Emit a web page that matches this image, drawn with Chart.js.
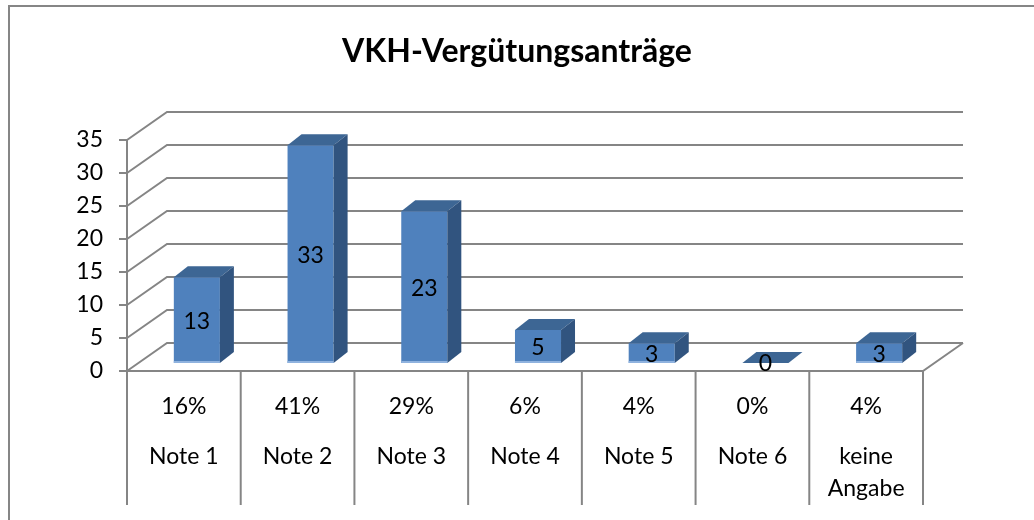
<!DOCTYPE html>
<html>
<head>
<meta charset="utf-8">
<script src="https://cdn.jsdelivr.net/npm/chart.js@4"></script>
<style>
  html, body { margin: 0; padding: 0; background: #fff; }
  canvas { display: block; }
</style>
</head>
<body>
<canvas id="chart" width="1034" height="520"></canvas>
<script>
// Anträge nach Note
const categories = ['Note 1', 'Note 2', 'Note 3', 'Note 4', 'Note 5', 'Note 6', ['keine', 'Angabe']];
const counts = [13, 33, 23, 5, 3, 0, 3];
const shares = ['16%', '41%', '29%', '6%', '4%', '0%', '4%'];
const title = 'VKH-Vergütungsanträge';

const FONT = 'Lato, "Open Sans", sans-serif';
const LABEL_FONT = '23px ' + FONT;
const GRID = '#858585';

// offsets of the front plane, the back wall and the bar depth relative to the bar plane
const FRONT = { dx: -13, dy: 8 };
const BACK = { dx: 27, dy: -20 };
const DEPTH = { dx: 14, dy: -11 };

function line(ctx, pts) {
    ctx.beginPath();
    ctx.moveTo(pts[0][0], pts[0][1]);
    for (let i = 1; i < pts.length; i++) ctx.lineTo(pts[i][0], pts[i][1]);
    ctx.stroke();
}

function poly(ctx, pts, color) {
    ctx.beginPath();
    ctx.moveTo(pts[0][0], pts[0][1]);
    for (let i = 1; i < pts.length; i++) ctx.lineTo(pts[i][0], pts[i][1]);
    ctx.closePath();
    ctx.fillStyle = color;
    ctx.fill();
}

const box3d = {
    id: 'box3d',
    beforeDatasetsDraw(chart) {
        const { ctx, chartArea: a, scales: { x, y } } = chart;
        ctx.save();

        // outer frame
        ctx.strokeStyle = '#868686';
        ctx.lineWidth = 2;
        line(ctx, [[9, 520], [9, 6], [1034, 6]]);

        // title, centred on the whole canvas
        ctx.fillStyle = '#000';
        ctx.font = 'bold 32px ' + FONT;
        ctx.textAlign = 'center';
        ctx.textBaseline = 'middle';
        ctx.fillText(title, chart.width / 2, 52);

        ctx.strokeStyle = GRID;
        ctx.lineWidth = 2;

        // back wall gridlines + side wall diagonals
        y.ticks.forEach(t => {
            const py = y.getPixelForValue(t.value);
            line(ctx, [
                [a.left + FRONT.dx, py + FRONT.dy],
                [a.left + BACK.dx, py + BACK.dy],
                [a.right + BACK.dx, py + BACK.dy]
            ]);
        });

        // floor
        const y0 = y.getPixelForValue(0);
        line(ctx, [
            [a.left + FRONT.dx, y0 + FRONT.dy],
            [a.right + FRONT.dx, y0 + FRONT.dy],
            [a.right + BACK.dx, y0 + BACK.dy]
        ]);

        // front value axis with tick marks and labels
        const ax = a.left + FRONT.dx;
        line(ctx, [[ax, y.getPixelForValue(y.max) + FRONT.dy], [ax, y0 + FRONT.dy]]);
        ctx.font = LABEL_FONT;
        ctx.textAlign = 'right';
        y.ticks.forEach(t => {
            const py = y.getPixelForValue(t.value) + FRONT.dy;
            line(ctx, [[ax - 8, py], [ax, py]]);
            ctx.fillText(String(t.value), 103, py);
        });

        // category table under the floor
        const half = (x.getPixelForValue(1) - x.getPixelForValue(0)) / 2;
        const top = y0 + FRONT.dy;
        for (let i = 0; i <= categories.length; i++) {
            const bx = x.getPixelForValue(0) - half + i * 2 * half + FRONT.dx;
            line(ctx, [[bx, top], [bx, 505]]);
        }
        ctx.textAlign = 'center';
        categories.forEach((c, i) => {
            const cx = x.getPixelForValue(i) + FRONT.dx;
            ctx.fillText(shares[i], cx, 407);
            const rows = Array.isArray(c) ? c : [c];
            rows.forEach((r, k) => ctx.fillText(r, cx, 457 + k * 32));
        });

        ctx.restore();
    },
    afterDatasetsDraw(chart) {
        const { ctx } = chart;
        const meta = chart.getDatasetMeta(0);
        ctx.save();
        meta.data.forEach((bar, i) => {
            const l = bar.x - bar.width / 2;
            const r = bar.x + bar.width / 2;
            const t = bar.y;
            const b = bar.base;
            // top face
            poly(ctx, [[l, t], [r, t], [r + DEPTH.dx, t + DEPTH.dy], [l + DEPTH.dx, t + DEPTH.dy]], '#3d6694');
            // right face
            poly(ctx, [[r, t], [r, b], [r + DEPTH.dx, b + DEPTH.dy], [r + DEPTH.dx, t + DEPTH.dy]], '#31547f');
            // light base edge
            if (b - t > 2) {
                ctx.fillStyle = '#8fb2de';
                ctx.fillRect(l, b - 2, r - l, 2);
            }
            // value label
            ctx.fillStyle = '#000';
            ctx.font = LABEL_FONT;
            ctx.textAlign = 'center';
            ctx.textBaseline = 'middle';
            ctx.fillText(String(counts[i]), bar.x, (t + b) / 2 + 1);
        });
        ctx.restore();
    }
};

new Chart(document.getElementById('chart'), {
    type: 'bar',
    data: {
        labels: categories,
        datasets: [{
            data: counts,
            backgroundColor: '#4f81bd',
            borderWidth: 0,
            categoryPercentage: 1,
            barPercentage: 0.405
        }]
    },
    options: {
        responsive: false,
        animation: false,
        layout: { padding: { left: 140, right: 98, top: 132, bottom: 157 } },
        scales: {
            x: { display: false },
            y: { display: false, min: 0, max: 35, ticks: { stepSize: 5 } }
        },
        plugins: {
            legend: { display: false },
            tooltip: { enabled: false },
            title: { display: false }
        }
    },
    plugins: [box3d]
});
</script>
</body>
</html>
